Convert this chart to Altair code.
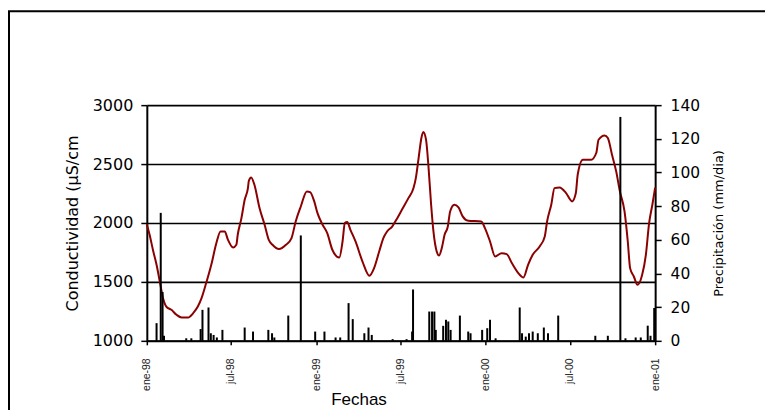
import altair as alt
import pandas as pd

# Conductivity (µS/cm); day offsets from 1998-01-01
cond_day = [0, 6, 14, 21, 28, 35, 42, 53, 64, 75,
            89, 100, 110, 118, 128, 139, 150, 159, 168, 175,
            186, 193, 196, 204, 211, 218, 220, 225, 232, 243,
            254, 263, 271, 285, 300, 312, 321, 332, 345, 352,
            361, 368, 379, 389, 400, 415, 422, 427, 432, 439,
            450, 465, 480, 490, 501, 510, 518, 529, 540, 550,
            564, 575, 580, 586, 592, 596, 602, 607, 613, 618,
            625, 630, 636, 642, 649, 654, 663, 672, 681, 693,
            721, 729, 740, 751, 765, 776, 787, 801, 812, 822,
            832, 847, 858, 863, 872, 879, 890, 904, 917, 925,
            929, 940, 958, 969, 974, 987, 994, 1003, 1012, 1020,
            1030, 1037, 1042, 1050, 1058, 1068, 1076, 1083, 1090, 1096]
cond_val = [1990, 1900, 1758, 1645, 1503, 1361, 1291, 1263, 1221, 1198,
            1198, 1235, 1291, 1362, 1490, 1645, 1830, 1928, 1928, 1857,
            1792, 1815, 1900, 2041, 2197, 2296, 2358, 2387, 2324, 2127,
            1985, 1857, 1815, 1779, 1815, 1872, 2013, 2140, 2268, 2262,
            2183, 2084, 1985, 1914, 1773, 1707, 1843, 1999, 2008, 1942,
            1843, 1673, 1552, 1617, 1758, 1872, 1928, 1970, 2041, 2112,
            2211, 2296, 2381, 2551, 2721, 2772, 2707, 2494, 2155, 1928,
            1758, 1724, 1787, 1900, 1970, 2098, 2155, 2132, 2056, 2019,
            2013, 1957, 1843, 1716, 1744, 1736, 1660, 1575, 1537, 1645,
            1730, 1801, 1886, 2013, 2155, 2296, 2302, 2254, 2183, 2254,
            2409, 2537, 2537, 2594, 2706, 2743, 2721, 2579, 2438, 2268,
            2098, 1843, 1617, 1546, 1475, 1560, 1730, 1999, 2155, 2300]

# Daily precipitation (mm/dia) events; day offsets from 1998-01-01
rain_day = [21, 30, 34, 37, 85, 96, 116, 120, 133, 138,
            144, 151, 163, 211, 229, 262, 270, 275, 305, 332,
            363, 383, 407, 417, 435, 444, 469, 478, 485, 530,
            560, 572, 574, 609, 615, 620, 623, 639, 645, 650,
            655, 675, 693, 698, 723, 734, 740, 752, 804, 809,
            817, 824, 832, 843, 856, 865, 887, 967, 994, 1021,
            1032, 1054, 1065, 1080, 1086, 1094]
rain_mm = [10.5, 76, 29, 3, 1.5, 1.5, 7, 18.4, 19.8, 4.5,
           3.5, 2, 6.5, 7.9, 5.5, 6.5, 4.5, 2, 15, 62.6,
           5.5, 5.5, 2, 2, 22.4, 12.9, 4.5, 7.9, 3.5, 1,
           1, 5.5, 30.5, 17.4, 17.4, 17.4, 6.5, 8.9, 12.5, 11.5,
           6.5, 15, 5.5, 4.5, 6.5, 7.5, 12.5, 1.5, 19.8, 4.5,
           2.5, 4.5, 5.5, 4.5, 7.9, 4.5, 15, 3, 3, 133,
           1.5, 2, 2, 9, 3, 19.5]

start = pd.Timestamp("1998-01-01")
cond_df = pd.DataFrame({
    "fecha": start + pd.to_timedelta(cond_day, unit="D"),
    "cond": cond_val,
})
rain_df = pd.DataFrame({
    "fecha": start + pd.to_timedelta(rain_day, unit="D"),
    "prec": rain_mm,
})

left_ticks = [1000, 1500, 2000, 2500, 3000]
right_ticks = [0, 20, 40, 60, 80, 100, 120, 140]
x_ticks = [alt.DateTime(year=y, month=m, date=1)
           for y, m in [(1998, 1), (1998, 7), (1999, 1), (1999, 7),
                        (2000, 1), (2000, 7), (2001, 1)]]
x_domain = [alt.DateTime(year=1998, month=1, date=1),
            alt.DateTime(year=2001, month=1, date=1)]

x_enc = alt.X(
    "fecha:T",
    scale=alt.Scale(domain=x_domain, nice=False),
    axis=alt.Axis(
        values=x_ticks,
        labelExpr="(month(datum.value) == 0 ? 'ene-' : 'jul-') + timeFormat(datum.value, '%y')",
        labelAngle=270, labelAlign="right", labelBaseline="middle",
        labelPadding=13, labelFont="Liberation Sans", labelFontSize=10.5,
        labelColor="#222222", tickSize=4, tickColor="black", tickWidth=1.5,
        domainColor="black", domainWidth=2, grid=False,
        title="Fechas", titleFont="Liberation Sans", titleFontSize=17,
        titleFontWeight="normal", titleColor="black",
        titleX=212, titleY=64, titleAlign="center", titleBaseline="alphabetic",
    ),
)

cond_line = alt.Chart(cond_df).mark_line(
    color="#8B0000", strokeWidth=2, interpolate="monotone"
).encode(
    x=x_enc,
    y=alt.Y(
        "cond:Q",
        scale=alt.Scale(domain=[1000, 3000], nice=False, zero=False),
        axis=alt.Axis(
            orient="left", values=left_ticks, format="d",
            labelFont="DejaVu Sans", labelFontSize=16, labelColor="black",
            labelPadding=8, tickSize=6, tickColor="black", tickWidth=1.5,
            domainColor="black", domainWidth=2,
            grid=True, gridColor="black", gridWidth=1.6, gridOpacity=1,
            title="Conductividad  (µS/cm", titleFont="DejaVu Sans",
            titleFontSize=16, titleFontWeight="normal", titleColor="black",
            titleAngle=270, titleX=-69, titleY=118, titleAlign="center",
            titleBaseline="alphabetic",
        ),
    ),
)

rain_rules = alt.Chart(rain_df).mark_rule(
    color="black", strokeWidth=2
).encode(
    x=x_enc,
    y=alt.Y(
        "prec:Q",
        scale=alt.Scale(domain=[0, 140], nice=False),
        axis=alt.Axis(
            orient="right", values=right_ticks, format="d",
            labelFont="DejaVu Sans", labelFontSize=15.5, labelColor="black",
            labelPadding=9, tickSize=6, tickColor="black", tickWidth=1.5,
            domainColor="black", domainWidth=2, grid=False,
            title="Precipitación (mm/dia)", titleFont="DejaVu Sans",
            titleFontSize=13, titleFontWeight="normal", titleColor="black",
            titleAngle=270, titleX=67, titleY=118, titleAlign="center",
            titleBaseline="alphabetic",
        ),
    ),
    y2=alt.datum(0),
)

frame = alt.Chart(alt.Data(values=[{"k": 1}])).mark_rect(
    filled=False, stroke="black", strokeWidth=2
).encode(
    x=alt.value(-138), x2=alt.value(900),
    y=alt.value(-94), y2=alt.value(600),
)

chart = alt.layer(cond_line, rain_rules, frame).resolve_scale(
    y="independent"
).properties(
    width=509, height=236,
    autosize=alt.AutoSizeParams(type="none"),
    padding={"left": 139, "top": 97, "right": 110, "bottom": 70},
    background="white",
).configure_view(strokeWidth=0)

chart.save("out.html", embed_options={"renderer": "svg", "actions": False})
